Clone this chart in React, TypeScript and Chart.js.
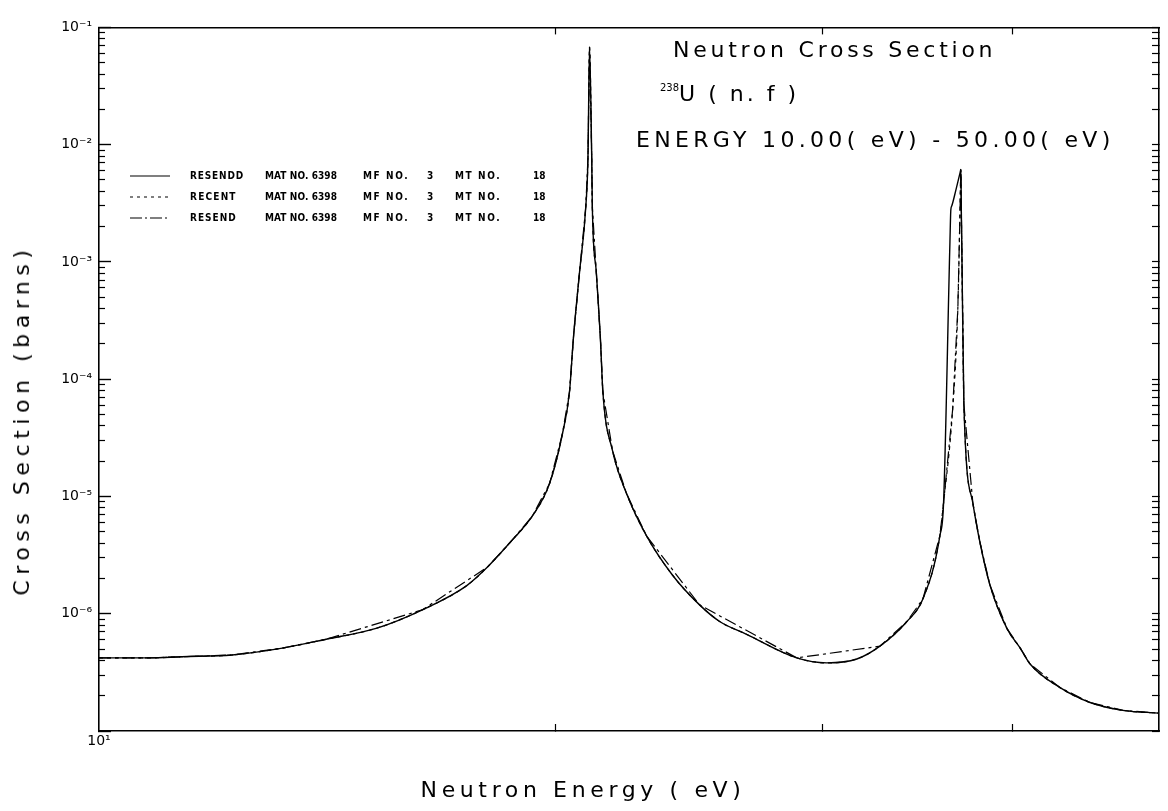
import React, { useEffect, useLayoutEffect, useRef, useState } from 'react';
import { Chart, registerables } from 'chart.js';

Chart.register(...registerables);

// ---------------- data (energy in eV, cross section in barns) ----------------
const resenddEnergy = [
  10.0, 10.79, 11.34, 12.24, 13.21, 14.12, 15.23, 16.34, 17.47, 18.03, 18.74, 19.31, 19.82,
  20.21, 20.43, 20.55, 20.74, 20.94, 21.01, 21.06, 21.13, 21.15, 21.28, 21.41, 21.49, 21.81,
  22.27, 22.96, 23.89, 24.89, 25.66, 26.73, 28.85, 30.19, 31.6, 32.73, 34.1, 34.94, 35.85,
  36.05, 36.4, 36.45, 36.5, 36.73, 36.97, 37.01, 37.03, 37.07, 37.18, 37.69, 38.1, 38.68,
  39.69, 40.5, 41.11, 43.03, 45.03, 47.34, 50.0,
];
const resenddXs = [
  4.2e-7, 4.2e-7, 4.3e-7, 4.45e-7, 5.09e-7, 6.06e-7, 7.5e-7, 1.08e-6, 1.73e-6, 2.49e-6, 4.29e-6,
  6.82e-6, 1.29e-5, 3.41e-5, 7.85e-5, 2.23e-4, 8.03e-4, 2.94e-3, 7.75e-3, 6.79e-2, 7.75e-3,
  2.94e-3, 8.03e-4, 2.23e-4, 7.85e-5, 2.45e-5, 1.07e-5, 4.63e-6, 2.13e-6, 1.19e-6, 8.59e-7,
  6.68e-7, 4.2e-7, 3.81e-7, 4.11e-7, 5.29e-7, 8.59e-7, 1.34e-6, 4.63e-6, 8.79e-6, 1.46e-3,
  2.77e-3, 3.0e-3, 4.1e-3, 5.8e-3, 6.14e-3, 3.2e-3, 1.12e-3, 6.1e-5, 8.79e-6, 4.05e-6,
  1.76e-6, 7.5e-7, 5.09e-7, 3.73e-7, 2.34e-7, 1.75e-7, 1.5e-7, 1.42e-7,
];

const recentEnergy = [
  10.0, 10.79, 11.34, 12.24, 13.21, 14.12, 15.23, 16.34, 17.47, 18.03, 18.74, 19.31, 19.82,
  20.21, 20.43, 20.55, 20.74, 20.94, 21.01, 21.06, 21.13, 21.15, 21.28, 21.41, 21.49, 21.81,
  22.27, 22.96, 23.89, 24.89, 25.66, 26.73, 28.85, 30.19, 31.6, 32.73, 34.1, 34.94, 35.85,
  36.05, 36.55, 36.84, 36.95, 37.01, 37.03, 37.07, 37.18, 37.69, 38.1, 38.68, 39.69, 40.5,
  41.11, 43.03, 45.03, 47.34, 50.0,
];
const recentXs = [
  4.2e-7, 4.2e-7, 4.3e-7, 4.45e-7, 5.09e-7, 6.06e-7, 7.5e-7, 1.08e-6, 1.73e-6, 2.49e-6, 4.29e-6,
  6.82e-6, 1.29e-5, 3.41e-5, 7.85e-5, 2.23e-4, 8.03e-4, 2.94e-3, 7.75e-3, 6.79e-2, 7.75e-3,
  2.94e-3, 8.03e-4, 2.23e-4, 7.85e-5, 2.45e-5, 1.07e-5, 4.63e-6, 2.13e-6, 1.19e-6, 8.59e-7,
  6.68e-7, 4.2e-7, 3.81e-7, 4.11e-7, 5.29e-7, 8.59e-7, 1.34e-6, 4.63e-6, 8.79e-6, 5.5e-5,
  4.0e-4, 2.2e-3, 6.14e-3, 3.2e-3, 1.12e-3, 6.1e-5, 8.79e-6, 4.05e-6, 1.76e-6, 7.5e-7,
  5.09e-7, 3.73e-7, 2.34e-7, 1.75e-7, 1.5e-7, 1.42e-7,
];

const resendEnergy = [
  10.0, 10.79, 11.34, 12.24, 13.21, 14.12, 16.34, 18.03, 18.74, 19.31, 19.82, 20.21, 20.43,
  20.55, 20.74, 20.94, 21.01, 21.06, 21.13, 21.15, 21.28, 21.41, 21.49, 21.81, 22.27, 22.96,
  24.89, 28.85, 32.73, 34.1, 34.94, 35.85, 36.05, 36.55, 36.84, 36.95, 37.01, 37.07, 37.18,
  37.69, 38.1, 38.68, 39.69, 40.5, 41.11, 43.03, 45.03, 47.34, 50.0,
];
const resendXs = [
  4.2e-7, 4.2e-7, 4.3e-7, 4.45e-7, 5.09e-7, 6.06e-7, 1.08e-6, 2.49e-6, 4.29e-6, 6.82e-6, 1.29e-5,
  3.41e-5, 7.85e-5, 2.23e-4, 8.03e-4, 2.94e-3, 7.75e-3, 6.79e-2, 7.75e-3, 2.94e-3, 8.03e-4,
  2.23e-4, 7.85e-5, 2.45e-5, 1.07e-5, 4.63e-6, 1.19e-6, 4.2e-7, 5.29e-7, 8.59e-7, 1.34e-6,
  4.63e-6, 8.79e-6, 5.5e-5, 4.0e-4, 2.2e-3, 6.14e-3, 1.12e-3, 6.1e-5, 8.79e-6, 4.05e-6,
  1.76e-6, 7.5e-7, 5.09e-7, 3.73e-7, 2.34e-7, 1.75e-7, 1.5e-7, 1.42e-7,
];

// ---------------- axes ----------------
const xTickValues = [10, 20, 30, 40, 50];
const xTickLabels = ['10¹', '', '', '', ''];
const xTopTickValues = [20, 30, 40];
const yDecades = [1e-7, 1e-6, 1e-5, 1e-4, 1e-3, 1e-2, 1e-1];
const yDecadeLabels = ['', '10⁻⁶', '10⁻⁵', '10⁻⁴', '10⁻³', '10⁻²', '10⁻¹'];
const yMinorMultipliers = [2, 3, 4, 5, 6, 7, 8, 9];

// ---------------- texts ----------------
const seriesNames = ['RESENDD', 'RECENT', 'RESEND'];
const matText = 'MAT NO. 6398';
const mfText = 'MF NO.';
const mfValue = '3';
const mtText = 'MT NO.';
const mtValue = '18';
const titleLine1 = 'Neutron Cross Section';
const titleLine2Sup = '238';
const titleLine2 = 'U ( n. f )';
const titleLine3 = 'ENERGY 10.00( eV) - 50.00( eV)';
const xTitle = 'Neutron Energy ( eV)';
const yTitle = 'Cross Section (barns)';

const FONT = '"DejaVu Sans", "Liberation Sans", sans-serif';
const LEGEND_FONT = '"DejaVu Sans Condensed", "DejaVu Sans", sans-serif';

type FitProps = {
  text: string;
  left?: number;
  cx?: number;
  cy: number;
  width: number;
  size: number;
  bold?: boolean;
  rotate?: boolean;
  family?: string;
};

function FitText({ text, left, cx, cy, width, size, bold, rotate, family }: FitProps) {
  const ref = useRef<HTMLSpanElement>(null);
  const [spacing, setSpacing] = useState(0);
  useLayoutEffect(() => {
    const el = ref.current;
    if (!el) return;
    el.style.letterSpacing = '0px';
    const natural = el.offsetWidth;
    const n = Math.max(1, text.length - 1);
    setSpacing(Math.max(0, (width - natural) / n));
  }, [text, width, size]);
  const style: React.CSSProperties = {
    position: 'absolute',
    whiteSpace: 'pre',
    fontFamily: family || FONT,
    fontSize: size,
    fontWeight: bold ? 'bold' : 'normal',
    lineHeight: 1,
    color: '#000',
    letterSpacing: spacing + 'px',
    top: cy,
  };
  if (rotate) {
    style.left = cx;
    style.transform = 'translate(-50%,-50%) rotate(-90deg)';
  } else if (cx !== undefined) {
    style.left = cx;
    style.transform = 'translate(-50%,-50%)';
  } else {
    style.left = left;
    style.transform = 'translateY(-50%)';
  }
  return (
    <span ref={ref} style={style}>
      {text}
    </span>
  );
}

const legendRowsY = [176, 197, 218];
const legendDash = ['', '3 4', '12 3 2 3'];

export default function App() {
  const canvasRef = useRef<HTMLCanvasElement>(null);

  useEffect(() => {
    const toPts = (xs: number[], ys: number[]) => xs.map((x, i) => ({ x, y: ys[i] }));
    const yMinorValues: number[] = [];
    yDecades.slice(0, -1).forEach((d) =>
      yMinorMultipliers.forEach((m) => yMinorValues.push(Number((m * d).toPrecision(3))))
    );
    const yAllValues = [...yDecades, ...yMinorValues].sort((a, b) => a - b);
    const tickFont = { family: FONT, size: 14 };
    const black = '#000';

    const chart = new Chart(canvasRef.current as HTMLCanvasElement, {
      type: 'line',
      data: {
        datasets: [
          {
            label: seriesNames[0],
            data: toPts(resenddEnergy, resenddXs),
            borderColor: black,
            borderWidth: 1.4,
            pointRadius: 0,
            cubicInterpolationMode: 'monotone',
            fill: false,
            order: 0,
          },
          {
            label: seriesNames[1],
            data: toPts(recentEnergy, recentXs),
            borderColor: black,
            borderWidth: 1.2,
            borderDash: [4, 4],
            pointRadius: 0,
            cubicInterpolationMode: 'monotone',
            fill: false,
            order: 1,
          },
          {
            label: seriesNames[2],
            data: toPts(resendEnergy, resendXs),
            borderColor: black,
            borderWidth: 1.2,
            borderDash: [12, 4, 3, 4],
            pointRadius: 0,
            tension: 0,
            fill: false,
            order: 2,
          },
        ],
      },
      options: {
        responsive: false,
        animation: false,
        events: [],
        layout: { padding: 0 },
        plugins: { legend: { display: false }, tooltip: { enabled: false } },
        scales: {
          x: {
            type: 'logarithmic',
            position: 'bottom',
            min: 10,
            max: 50,
            afterBuildTicks: (s: any) => {
              s.ticks = xTickValues.map((v) => ({ value: v }));
            },
            afterFit: (s: any) => {
              s.height = 80;
            },
            ticks: {
              autoSkip: false,
              maxRotation: 0,
              padding: 9,
              color: black,
              font: tickFont,
              callback: (v: any) => {
                const i = xTickValues.indexOf(Number(v));
                return i >= 0 ? xTickLabels[i] : '';
              },
            },
            grid: {
              drawOnChartArea: false,
              tickLength: -7,
              tickWidth: 1.2,
              tickColor: (ctx: any) =>
                ctx.tick && (ctx.tick.value === 10 || ctx.tick.value === 50) ? 'rgba(0,0,0,0)' : black,
            },
            border: { display: true, color: black, width: 1.6 },
          },
          x2: {
            type: 'logarithmic',
            position: 'top',
            min: 10,
            max: 50,
            afterBuildTicks: (s: any) => {
              s.ticks = xTopTickValues.map((v) => ({ value: v }));
            },
            afterFit: (s: any) => {
              s.height = 18;
            },
            ticks: { display: false },
            grid: { drawOnChartArea: false, tickLength: -7, tickWidth: 1.2, tickColor: black },
            border: { display: true, color: black, width: 1.6 },
          },
          y: {
            type: 'logarithmic',
            position: 'left',
            weight: 1,
            min: 1e-7,
            max: 1e-1,
            afterBuildTicks: (s: any) => {
              s.ticks = yDecades.map((v) => ({ value: v }));
            },
            afterFit: (s: any) => {
              s.width = 99;
            },
            ticks: {
              autoSkip: false,
              padding: 19,
              color: black,
              font: tickFont,
              callback: (v: any) => {
                const i = yDecades.findIndex((d) => Math.abs(d - Number(v)) / d < 1e-6);
                return i >= 0 ? yDecadeLabels[i] : '';
              },
            },
            grid: { drawOnChartArea: false, tickLength: -12, tickWidth: 1.4, tickColor: black },
            border: { display: true, color: black, width: 1.6 },
          },
          yMinor: {
            type: 'logarithmic',
            position: 'left',
            weight: 0,
            min: 1e-7,
            max: 1e-1,
            afterBuildTicks: (s: any) => {
              s.ticks = yMinorValues.map((v) => ({ value: v }));
            },
            afterFit: (s: any) => {
              s.width = 0;
            },
            ticks: { display: false },
            grid: { drawOnChartArea: false, tickLength: -6, tickWidth: 1.2, tickColor: black },
            border: { display: false },
          },
          y2: {
            type: 'logarithmic',
            position: 'right',
            min: 1e-7,
            max: 1e-1,
            afterBuildTicks: (s: any) => {
              s.ticks = yAllValues.map((v) => ({ value: v }));
            },
            afterFit: (s: any) => {
              s.width = 8;
            },
            ticks: { display: false },
            grid: { drawOnChartArea: false, tickLength: -7, tickWidth: 1.2, tickColor: black },
            border: { display: true, color: black, width: 1.6 },
          },
        },
      },
    } as any);
    return () => chart.destroy();
  }, []);

  return (
    <div
      style={{
        position: 'fixed',
        left: 0,
        top: 0,
        width: 1168,
        height: 811,
        background: '#fff',
        overflow: 'hidden',
      }}
    >
      <canvas ref={canvasRef} width={1168} height={811} style={{ display: 'block' }} />

      {/* axis titles */}
      <FitText text={yTitle} cx={22} cy={420} width={346} size={22} rotate />
      <FitText text={xTitle} cx={583} cy={790} width={320} size={22} />

      {/* title block */}
      <FitText text={titleLine1} left={673} cy={50} width={320} size={22} />
      <div
        style={{
          position: 'absolute',
          left: 660,
          top: 94,
          transform: 'translateY(-50%)',
          fontFamily: FONT,
          color: '#000',
          whiteSpace: 'pre',
          lineHeight: 1,
        }}
      >
        <span style={{ fontSize: 10, verticalAlign: 'top', letterSpacing: '0px' }}>{titleLine2Sup}</span>
        <span style={{ fontSize: 22, letterSpacing: '3px' }}>{titleLine2}</span>
      </div>
      <FitText text={titleLine3} left={636} cy={140} width={474} size={22} />

      {/* legend */}
      {legendRowsY.map((y, i) => (
        <React.Fragment key={seriesNames[i]}>
          <svg style={{ position: 'absolute', left: 130, top: y - 2 }} width={42} height={4}>
            <line
              x1={0}
              y1={2}
              x2={40}
              y2={2}
              stroke="#000"
              strokeWidth={1.2}
              strokeDasharray={legendDash[i] || undefined}
            />
          </svg>
          <FitText text={seriesNames[i]} left={190} cy={y} width={i === 0 ? 53 : 46} size={10} bold family={LEGEND_FONT} />
          <FitText text={matText} left={265} cy={y} width={72} size={10} bold family={LEGEND_FONT} />
          <FitText text={mfText} left={363} cy={y} width={45} size={10} bold family={LEGEND_FONT} />
          <FitText text={mfValue} left={427} cy={y} width={6} size={10} bold family={LEGEND_FONT} />
          <FitText text={mtText} left={455} cy={y} width={45} size={10} bold family={LEGEND_FONT} />
          <FitText text={mtValue} left={533} cy={y} width={12} size={10} bold family={LEGEND_FONT} />
        </React.Fragment>
      ))}
    </div>
  );
}
